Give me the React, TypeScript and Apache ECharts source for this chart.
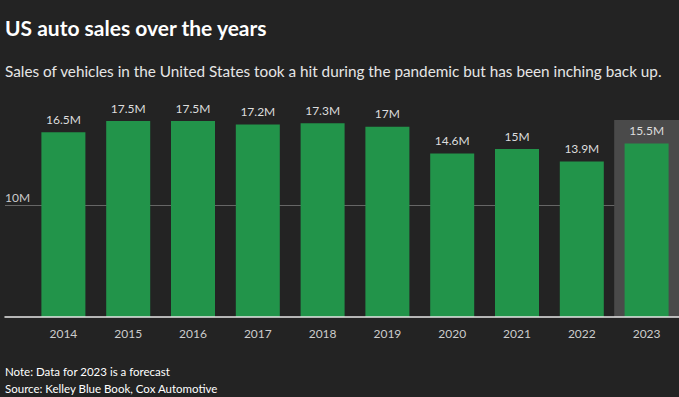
import React, { useEffect, useRef } from "react";
import * as echarts from "echarts";

const years = ["2014", "2015", "2016", "2017", "2018", "2019", "2020", "2021", "2022", "2023"];
const sales = [16.5, 17.5, 17.5, 17.2, 17.3, 17.0, 14.6, 15.0, 13.9, 15.5];
const highlight = ["-", "-", "-", "-", "-", "-", "-", "-", "-", 17.6];
const yMax = 17.6;

const FONT = "Lato";

export default function App() {
  const ref = useRef<HTMLDivElement>(null);
  useEffect(() => {
    if (!ref.current) return;
    const chart = echarts.init(ref.current, null, { renderer: "svg" });
    chart.setOption({
      animation: false,
      backgroundColor: "#232323",
      textStyle: { fontFamily: FONT },
      title: [
        {
          text: "US auto sales over the years",
          left: 5,
          top: 17,
          padding: 0,
          textStyle: { color: "#ffffff", fontSize: 21, fontWeight: "bold", fontFamily: FONT },
        },
        {
          text: "Sales of vehicles in the United States took a hit during the pandemic but has been inching back up.",
          left: 5,
          top: 63,
          padding: 0,
          textStyle: { color: "#e6e6e6", fontSize: 15.3, fontWeight: "normal", fontFamily: FONT },
        },
        {
          text: "Note: Data for 2023 is a forecast",
          left: 5,
          top: 365,
          padding: 0,
          textStyle: { color: "#ffffff", fontSize: 11.5, fontWeight: "normal", fontFamily: FONT },
        },
        {
          text: "Source: Kelley Blue Book, Cox Automotive",
          left: 5,
          top: 382,
          padding: 0,
          textStyle: { color: "#ffffff", fontSize: 11.5, fontWeight: "normal", fontFamily: FONT },
        },
      ],
      grid: [
        { left: 31, width: 649, top: 120, bottom: 80 },
        { left: 5, right: 0, top: 120, bottom: 80 },
      ],
      xAxis: [
        {
          type: "category",
          gridIndex: 0,
          data: years,
          axisLine: { show: false },
          axisTick: { show: false },
          axisLabel: { color: "#cccccc", fontSize: 12, margin: 10, fontFamily: FONT },
        },
        {
          type: "category",
          gridIndex: 0,
          data: years,
          show: false,
        },
        {
          type: "value",
          gridIndex: 1,
          min: 0,
          max: 1,
          z: 10,
          axisLine: { show: true, onZero: false, lineStyle: { color: "#e8e8e8", width: 1.5 } },
          axisTick: { show: false },
          axisLabel: { show: false },
          splitLine: { show: false },
        },
      ],
      yAxis: [
        { type: "value", gridIndex: 0, min: 0, max: yMax, show: false },
        {
          type: "value",
          gridIndex: 1,
          min: 0,
          max: yMax,
          interval: 10,
          axisLine: { show: false },
          axisTick: { show: false },
          axisLabel: {
            inside: true,
            margin: 0,
            color: "#cccccc",
            fontSize: 12,
            fontFamily: FONT,
            verticalAlign: "bottom",
            padding: [0, 0, 2, 0],
            showMinLabel: false,
            showMaxLabel: false,
            formatter: (v: number) => (v === 10 ? "10M" : ""),
          },
          splitLine: {
            show: true,
            showMinLine: false,
            showMaxLine: false,
            lineStyle: { color: "#666666", width: 1 },
          },
        },
      ],
      series: [
        {
          type: "bar",
          name: "forecast",
          xAxisIndex: 1,
          yAxisIndex: 0,
          data: highlight,
          barWidth: "100%",
          itemStyle: { color: "#4a4a4a" },
          z: 1,
          silent: true,
        },
        {
          type: "bar",
          name: "sales",
          xAxisIndex: 0,
          yAxisIndex: 0,
          data: sales,
          barWidth: 44,
          itemStyle: { color: "#22944a" },
          z: 3,
          label: {
            show: true,
            position: "top",
            distance: 7,
            color: "#dddddd",
            fontSize: 12,
            fontFamily: FONT,
            formatter: (p: any) => `${p.value}M`,
          },
        },
      ],
    });
    return () => chart.dispose();
  }, []);
  return (
    <div
      ref={ref}
      style={{ position: "fixed", left: 0, top: 0, width: 679, height: 397 }}
    />
  );
}
